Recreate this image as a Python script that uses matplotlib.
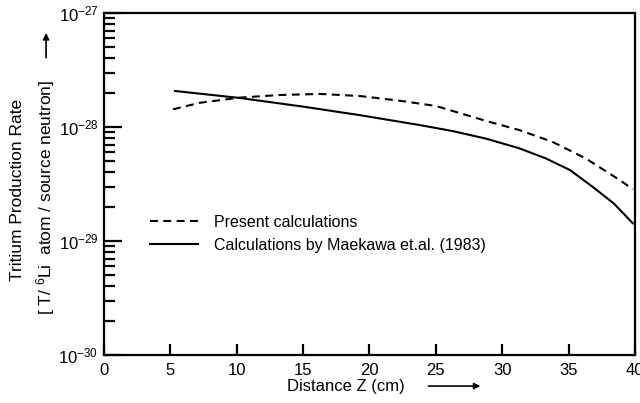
import matplotlib.pyplot as plt
from matplotlib.patches import FancyArrowPatch
from matplotlib.ticker import LogLocator, NullFormatter

plt.rcParams['font.family'] = ['Liberation Sans', 'DejaVu Sans']
plt.rcParams['mathtext.fontset'] = 'custom'
plt.rcParams['mathtext.rm'] = 'Liberation Sans'
plt.rcParams['mathtext.it'] = 'Liberation Sans'
plt.rcParams['axes.unicode_minus'] = False

# present calculations (dashed)
z_present = [5.2, 7.2, 10.2, 13.25, 16.3, 19.3, 22.3, 25.0, 26.3, 28.8, 31.3,
             33.8, 36.3, 38.9, 39.85]
tpr_present = [1.43e-28, 1.63e-28, 1.81e-28, 1.91e-28, 1.95e-28, 1.87e-28, 1.70e-28,
               1.53e-28, 1.38e-28, 1.13e-28, 9.4e-29, 7.4e-29, 5.3e-29, 3.4e-29, 2.84e-29]

# Maekawa et al. (1983) (solid)
z_maekawa = [5.35, 10.2, 15.0, 19.3, 23.8, 26.3, 28.8, 31.3, 33.3, 35.1, 36.8,
             38.4, 39.85]
tpr_maekawa = [2.07e-28, 1.80e-28, 1.51e-28, 1.27e-28, 1.04e-28, 9.2e-29, 7.9e-29,
               6.5e-29, 5.3e-29, 4.2e-29, 3.0e-29, 2.14e-29, 1.43e-29]

fig = plt.figure(figsize=(6.4, 4.03), dpi=100)
ax = fig.add_axes([0.1625, 0.119, 0.8295, 0.8487])

ax.plot(z_present, tpr_present, color='black', lw=1.5, dashes=(3.8, 2.6),
        label='Present calculations')
ax.plot(z_maekawa, tpr_maekawa, color='black', lw=1.5,
        label='Calculations by Maekawa et.al. (1983)')

ax.set_yscale('log')
ax.set_xlim(0, 40)
ax.set_ylim(1e-30, 1e-27)
ax.set_xticks([0, 5, 10, 15, 20, 25, 30, 35, 40])
ax.yaxis.set_major_locator(LogLocator(base=10, numticks=10))
ax.yaxis.set_minor_locator(LogLocator(base=10, subs=range(2, 10), numticks=20))
ax.yaxis.set_minor_formatter(NullFormatter())

for s in ax.spines.values():
    s.set_linewidth(1.6)

ax.tick_params(axis='x', which='major', direction='in', length=8, width=1.6,
               labelsize=12, pad=6, top=False)
ax.tick_params(axis='y', which='major', direction='in', length=13, width=1.6,
               labelsize=12, pad=4, right=False)
ax.tick_params(axis='y', which='minor', direction='in', length=8, width=1.6, right=False)

ax.legend(loc='upper left', bbox_to_anchor=(0.06, 0.452), frameon=False,
          fontsize=11.5, handlelength=3.0, handletextpad=1.0, labelspacing=0.5)

fig.text(0.028, 0.528, 'Tritium Production Rate', rotation=90, ha='center', va='center',
         fontsize=12.5)
fig.text(0.071, 0.511, '[ T/ $^{6}$Li  atom / source neutron]', rotation=90,
         ha='center', va='center', fontsize=12.5)
fig.text(0.54, 0.042, 'Distance Z (cm)', ha='center', va='center', fontsize=12)

fig.patches.append(FancyArrowPatch(
    (0.072, 0.85), (0.072, 0.925), transform=fig.transFigure,
    arrowstyle='-|>', mutation_scale=9, color='black', lw=1.2))
fig.patches.append(FancyArrowPatch(
    (0.665, 0.042), (0.755, 0.042), transform=fig.transFigure,
    arrowstyle='-|>', mutation_scale=9, color='black', lw=1.2))

fig.savefig('out.png', dpi=100)
